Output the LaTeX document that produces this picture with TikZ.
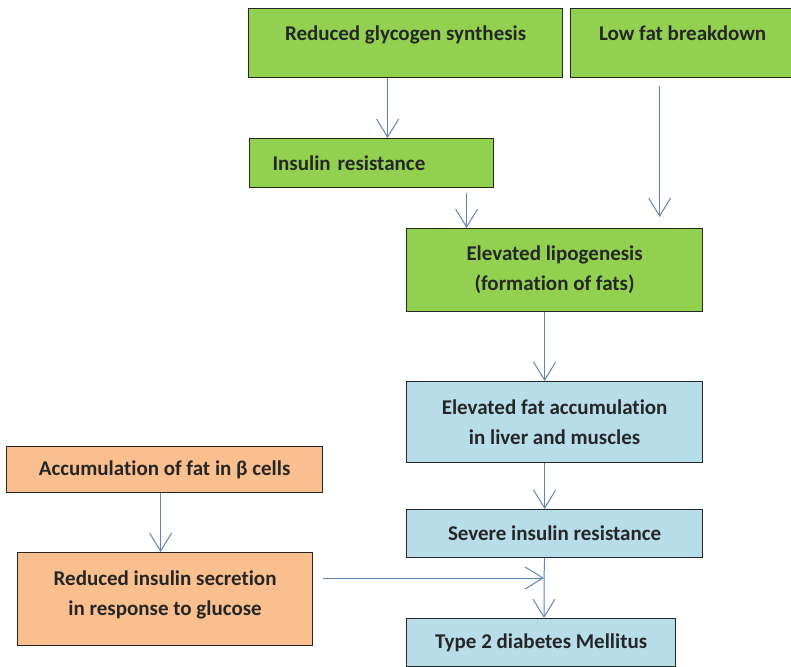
\documentclass[tikz,border=0pt]{standalone}
\usepackage{fontspec}
\setmainfont{Carlito}[Ligatures=NoCommon]
\usetikzlibrary{arrows.meta, positioning}
\definecolor{stagegreen}{RGB}{146, 208, 80}
\definecolor{stageblue}{RGB}{183, 221, 232}
\definecolor{stageorange}{RGB}{250, 191, 143}
\definecolor{flowblue}{RGB}{98, 132, 184}

\begin{document}
\begin{tikzpicture}[
    x=1pt, y=-1pt,
    every node/.style={font=\fontsize{21}{30}\selectfont\bfseries},
    stage/.style={rectangle, anchor=north west, inner sep=0pt, align=center, text=black!85, draw=black!85, line width=1.2pt},
    flow/.style={-{Straight Barb[length=18pt, width=22pt, line width=1pt]}, line width=1pt, flowblue}
]
\useasboundingbox (0,0) rectangle (791,666);

\node[stage, fill=stagegreen, minimum width=314pt, text height=32pt, text depth=37pt] (glycogen) at (248,8) {Reduced glycogen synthesis};
\node[stage, fill=stagegreen, minimum width=224pt, text height=32pt, text depth=37pt] (lowfat) at (570,8) {Low fat breakdown};
\node[stage, fill=stagegreen, minimum height=49pt, text width=198pt, inner xsep=23pt, align=left] (resistance) at (249,138) {Insulin resistance};
\node[stage, fill=stagegreen, minimum width=296pt, minimum height=83pt] (lipogenesis) at (406,228) {Elevated lipogenesis\\(formation of fats)};

\node[stage, fill=stageblue, minimum width=296pt, minimum height=81pt] (accumulation) at (406,381) {Elevated fat accumulation\\in liver and muscles};
\node[stage, fill=stageblue, minimum width=296pt, minimum height=48pt] (severe) at (406,509) {Severe insulin resistance};
\node[stage, fill=stageblue, minimum width=269pt, minimum height=48pt] (diabetes) at (406,618) {Type 2 diabetes Mellitus};

\node[stage, fill=stageorange, minimum width=316pt, minimum height=46pt] (betafat) at (6,446) {Accumulation of fat in β cells};
\node[stage, fill=stageorange, minimum width=295pt, text height=63pt, text depth=30pt] (secretion) at (17,552) {Reduced insulin secretion\\in response to glucose};

\coordinate (merge) at (544,578);

\draw[flow] ([xshift=-18pt]glycogen.south) -- ([xshift=-18pt]glycogen.south |- resistance.north);
\draw[flow] ([xshift=95pt,yshift=-5pt]resistance.south) -- ([xshift=95pt]resistance.south |- lipogenesis.north);
\draw[flow, shorten >=11pt] ([xshift=-23pt,yshift=-8pt]lowfat.south) -- ([xshift=-23pt]lowfat.south |- lipogenesis.north);
\draw[flow] ([xshift=-10pt]lipogenesis.south) -- ([xshift=-10pt]lipogenesis.south |- accumulation.north);
\draw[flow] ([xshift=-10pt]accumulation.south) -- ([xshift=-10pt]accumulation.south |- severe.north);
\draw[flow] ([xshift=-10pt]severe.south) -- (merge) -- (merge |- diabetes.north);
\draw[flow] ([xshift=-4pt]betafat.south) -- ([xshift=-4pt]betafat.south |- secretion.north);
\draw[flow] ([xshift=10pt]secretion.east |- merge) -- (merge);

\end{tikzpicture}
\end{document}
